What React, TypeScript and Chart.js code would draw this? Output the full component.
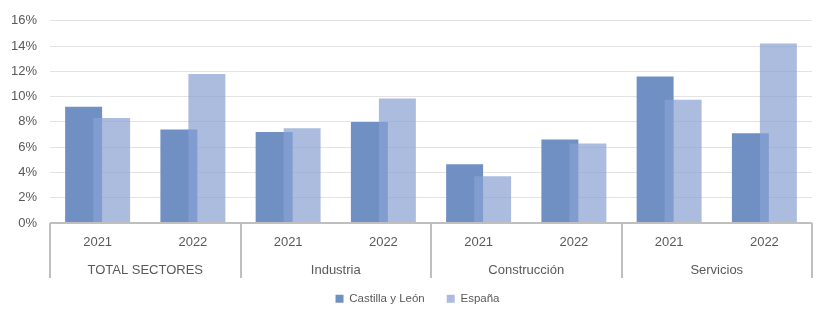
import React, { useEffect, useRef } from "react";
import { Chart, registerables } from "chart.js";

Chart.register(...registerables);

const years = ["2021", "2022", "2021", "2022", "2021", "2022", "2021", "2022"];
const sectors = ["TOTAL SECTORES", "Industria", "Construcción", "Servicios"];
const castillaLeon = [9.2, 7.4, 7.2, 8.0, 4.65, 6.6, 11.6, 7.1];
const espana = [8.3, 11.8, 7.5, 9.85, 3.7, 6.3, 9.75, 14.2];
const yTicks = [0, 2, 4, 6, 8, 10, 12, 14, 16];

const FONT = '"Liberation Sans", Arial, sans-serif';
const TEXT = "#595959";
const LINE = "#bfbfbf";

const orderPlugin = {
  id: "orderPlugin",
  beforeDatasetsDraw(chart: any) {
    const { ctx, chartArea } = chart;
    ctx.save();
    ctx.beginPath();
    ctx.rect(chartArea.left, chartArea.top, chartArea.right - chartArea.left, chartArea.bottom - chartArea.top);
    ctx.clip();
    for (let i = 0; i < chart.data.datasets.length; i++) {
      const meta = chart.getDatasetMeta(i);
      if (meta.visible !== false && !meta.hidden) meta.controller.draw();
    }
    ctx.restore();
    return false;
  },
};

const sectorPlugin = {
  id: "sectorPlugin",
  afterDraw(chart: any) {
    const { ctx, chartArea } = chart;
    const x = chart.scales.x;
    const bottom = chartArea.bottom;
    const bounds: number[] = [chartArea.left];
    for (let k = 1; k < sectors.length; k++) {
      bounds.push((x.getPixelForTick(2 * k - 1) + x.getPixelForTick(2 * k)) / 2);
    }
    bounds.push(chartArea.right);
    ctx.save();
    ctx.strokeStyle = LINE;
    ctx.lineWidth = 2;
    ctx.beginPath();
    for (const b of bounds) {
      const bx = Math.round(b);
      ctx.moveTo(bx, bottom);
      ctx.lineTo(bx, bottom + 55);
    }
    ctx.moveTo(chartArea.left, bottom);
    ctx.lineTo(chartArea.right, bottom);
    ctx.stroke();
    ctx.fillStyle = TEXT;
    ctx.font = `13px ${FONT}`;
    ctx.textAlign = "center";
    ctx.textBaseline = "middle";
    sectors.forEach((s, i) => {
      ctx.fillText(s, (bounds[i] + bounds[i + 1]) / 2, bottom + 47);
    });
    ctx.restore();
  },
};

export default function App() {
  const ref = useRef<HTMLCanvasElement>(null);
  useEffect(() => {
    document.body.style.margin = "0";
    const chart = new Chart(ref.current!, {
      type: "bar",
      data: {
        labels: years,
        datasets: [
          {
            label: "Castilla y León",
            data: castillaLeon,
            backgroundColor: "#7090c4",
            categoryPercentage: 0.588,
            barPercentage: 1.32,
          },
          {
            label: "España",
            data: espana,
            backgroundColor: "rgba(137,160,210,0.71)",
            categoryPercentage: 0.588,
            barPercentage: 1.32,
          },
        ],
      },
      options: {
        responsive: false,
        animation: false,
        layout: { padding: { left: 0, right: -3, top: 17, bottom: 9.5 } },
        plugins: {
          tooltip: { enabled: false },
          legend: {
            position: "bottom",
            labels: {
              boxWidth: 8,
              boxHeight: 8,
              padding: 22,
              color: TEXT,
              font: { family: FONT, size: 11.5 },
            },
          },
        },
        scales: {
          x: {
            grid: { display: false },
            border: { display: false },
            ticks: { color: TEXT, font: { family: FONT, size: 13 }, padding: 4, maxRotation: 0 },
            afterFit: (s: any) => {
              s.height = 48;
            },
          },
          y: {
            min: 0,
            max: 16,
            afterBuildTicks: (s: any) => {
              s.ticks = yTicks.map((v) => ({ value: v }));
            },
            grid: { color: "#e3e3e3", lineWidth: 1, drawTicks: false },
            border: { display: false },
            ticks: {
              color: TEXT,
              font: { family: FONT, size: 13 },
              padding: 13,
              callback: (v: any) => `${v}%`,
            },
            afterFit: (s: any) => {
              s.width = 50;
            },
          },
          yr: {
            position: "right",
            display: true,
            grid: { display: false },
            border: { display: false },
            ticks: { display: false },
            afterFit: (s: any) => {
              s.width = 23;
            },
          },
        },
      },
      plugins: [orderPlugin, sectorPlugin],
    });
    return () => chart.destroy();
  }, []);
  return (
    <div style={{ width: 832, height: 324, background: "#fff" }}>
      <canvas ref={ref} width={832} height={324} />
    </div>
  );
}
